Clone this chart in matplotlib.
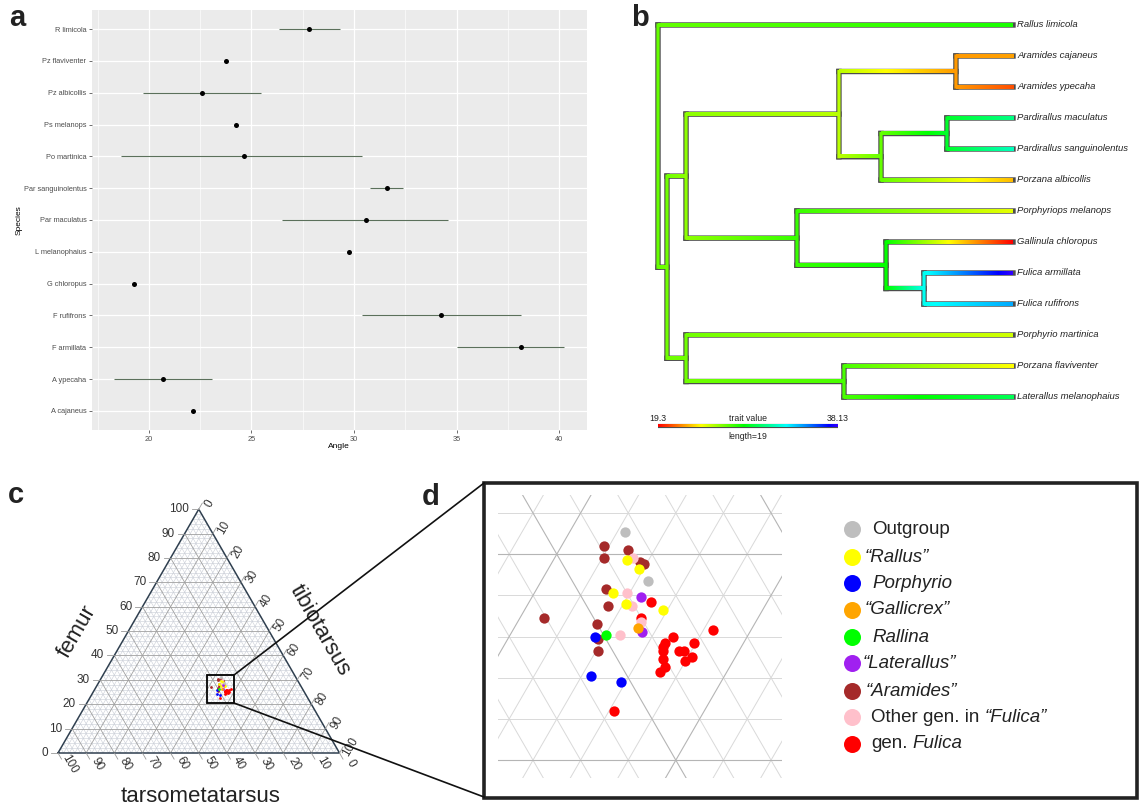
import numpy as np
import matplotlib
matplotlib.use("Agg")
import matplotlib.pyplot as plt
from matplotlib.collections import LineCollection
from matplotlib.colors import ListedColormap, hsv_to_rgb, Normalize
from matplotlib.patches import Rectangle

plt.rcParams['font.family'] = ['Liberation Sans', 'DejaVu Sans']

# ---------------- data : panel a ----------------
species_abbr = ["R limicola", "Pz flaviventer", "Pz albicollis", "Ps melanops", "Po martinica",
                "Par sanguinolentus", "Par maculatus", "L melanophaius", "G chloropus",
                "F rufifrons", "F armillata", "A ypecaha", "A cajaneus"]
angle_mean = [27.83, 23.75, 22.58, 24.23, 24.62, 31.63, 30.61, 29.78, 19.30, 34.26, 38.13, 20.68, 22.14]
angle_low = [26.37, np.nan, 19.70, np.nan, 18.64, 30.80, 26.47, np.nan, np.nan, 30.41, 35.04, 18.30, np.nan]
angle_high = [29.34, np.nan, 25.45, np.nan, 30.41, 32.41, 34.60, np.nan, np.nan, 38.15, 40.24, 23.07, np.nan]
angle_ticks = [20, 25, 30, 35, 40]

# ---------------- data : panel b (tree) ----------------
tip_names = ["Rallus limicola", "Aramides cajaneus", "Aramides ypecaha", "Pardirallus maculatus",
             "Pardirallus sanguinolentus", "Porzana albicollis", "Porphyriops melanops",
             "Gallinula chloropus", "Fulica armillata", "Fulica rufifrons", "Porphyrio martinica",
             "Porzana flaviventer", "Laterallus melanophaius"]
tip_values = [27.83, 22.14, 20.68, 30.61, 31.63, 22.58, 24.23, 19.30, 38.13, 34.26, 24.62, 23.75, 29.78]
tip_depth = 37.47
tree_nodes = ["root", "nA", "nB", "nC", "nD", "nE", "nF", "nG", "nH", "nI", "nJ", "nK"]
tree_children = [["t0", "nA"], ["nB", "nJ"], ["nC", "nG"], ["nD", "nE"], ["t1", "t2"], ["nF", "t5"],
                 ["t3", "t4"], ["t6", "nH"], ["t7", "nI"], ["t8", "t9"], ["t10", "nK"], ["t11", "t12"]]
node_depth = [0.0, 0.95, 2.96, 19.1, 31.45, 23.54, 30.5, 14.67, 24.07, 28.08, 2.96, 19.63]
node_value = [26.5, 26.3, 25.8, 25.0, 22.0, 26.5, 29.0, 27.3, 28.2, 32.5, 26.3, 27.0]
trait_min, trait_max = 19.3, 38.13
bar_length = 19

# ---------------- data : panels c/d (ternary: femur %, tibiotarsus %) ----------------
group_names = ["Outgroup", "Rallus", "Porphyrio", "Gallicrex", "Rallina", "Laterallus",
               "Aramides", "Other", "Fulica"]
group_colors = ["#BEBEBE", "#FFFF00", "#0000FF", "#FFA500", "#00FF00", "#A020F0",
                "#A52A2A", "#FFC0CB", "#FF0000"]
femur = {
    "Outgroup": [31.1, 28.7],
    "Aramides": [30.4, 29.8, 30.2, 29.6, 29.5, 28.3, 27.5, 26.9, 26.6, 25.9, 25.3],
    "Fulica": [27.7, 26.9, 26.3, 26.0, 25.7, 25.7, 25.5, 25.3, 25.3, 25.3, 25.0, 24.8, 24.9, 24.5, 24.3, 22.4],
    "Other": [29.8, 28.1, 27.5, 26.7, 26.1],
    "Rallus": [29.7, 29.3, 28.1, 27.6, 27.3],
    "Porphyrio": [26.0, 24.1, 23.8],
    "Rallina": [26.1],
    "Laterallus": [27.9, 26.2],
    "Gallicrex": [26.4],
}
tibiotarsus = {
    "Outgroup": [42.3, 44.5],
    "Aramides": [41.8, 42.1, 42.9, 43.7, 43.9, 42.9, 43.4, 41.0, 43.4, 43.8, 44.1],
    "Fulica": [45.1, 45.1, 48.4, 46.9, 47.9, 46.7, 46.7, 46.8, 47.5, 47.7, 48.2, 48.0, 47.0, 47.3, 47.2, 46.2],
    "Other": [43.3, 43.9, 44.4, 45.2, 44.6],
    "Rallus": [43.1, 43.8, 43.3, 44.1, 45.8],
    "Porphyrio": [43.6, 44.4, 45.8],
    "Rallina": [44.0],
    "Laterallus": [44.6, 45.5],
    "Gallicrex": [45.2],
}
draw_order = ["Aramides", "Fulica", "Other", "Rallus", "Porphyrio", "Rallina", "Laterallus",
              "Gallicrex", "Outgroup"]
legend_parts = [
    [("Outgroup", "normal")],
    [("\u201cRallus\u201d", "italic")],
    [("Porphyrio", "italic")],
    [("\u201cGallicrex\u201d", "italic")],
    [("Rallina", "italic")],
    [("\u201cLaterallus\u201d", "italic")],
    [("\u201cAramides\u201d", "italic")],
    [("Other gen. in", "normal"), ("\u201cFulica\u201d", "italic")],
    [("gen.", "normal"), ("Fulica", "italic")],
]
tern_ticks = list(range(0, 101, 10))

# ---------------- figure ----------------
W, H = 1145, 808
fig = plt.figure(figsize=(W / 100, H / 100), dpi=100)


def px_axes(x0, y0, x1, y1):
    return fig.add_axes([x0 / W, 1 - y1 / H, (x1 - x0) / W, (y1 - y0) / H])


# ---------------- panel a ----------------
axa = px_axes(92, 10, 587, 430)
axa.set_facecolor("#EBEBEB")
n = len(species_abbr)
yk = np.arange(n)
axa.set_xlim(17.23, 41.36)
axa.set_ylim(n - 1 + 0.6, -0.6)
axa.set_xticks(angle_ticks)
axa.set_xticks([t + 2.5 for t in [15] + angle_ticks[:-1]], minor=True)
axa.set_yticks(yk)
axa.set_yticklabels(species_abbr)
axa.grid(which="major", color="white", lw=0.9)
axa.grid(which="minor", axis="x", color="white", lw=0.45)
axa.set_axisbelow(True)
for s in axa.spines.values():
    s.set_visible(False)
axa.tick_params(which="major", length=2.5, width=0.5, color="#333333", labelsize=5.3,
                labelcolor="#4D4D4D", pad=1.5)
axa.tick_params(which="minor", length=0)
lo = np.array(angle_low)
hi = np.array(angle_high)
mask = ~np.isnan(lo)
axa.hlines(yk[mask], lo[mask], hi[mask], color="#5b705b", lw=0.8, zorder=2)
axa.scatter(angle_mean, yk, s=13, color="black", zorder=3, linewidths=0)

# ---------------- panel b ----------------
hues = np.linspace(0, 0.7, 1001)
cmap = ListedColormap(hsv_to_rgb(np.column_stack([hues, np.ones_like(hues), np.ones_like(hues)])))
norm = Normalize(trait_min, trait_max)

axb = px_axes(640, 5, 1145, 455)
ux = 180 / 19.0
XL = ((640 - 658) / ux, (1145 - 658) / ux)
YL = ((455 - 25) / 31.0, (5 - 25) / 31.0)
axb.axis("off")

idx = {nm: i for i, nm in enumerate(tree_nodes)}


def depth_of(nm):
    return tip_depth if nm[0] == "t" else node_depth[idx[nm]]


def value_of(nm):
    return tip_values[int(nm[1:])] if nm[0] == "t" else node_value[idx[nm]]


def ypos(nm):
    if nm[0] == "t":
        return float(int(nm[1:]))
    return float(np.mean([ypos(c) for c in tree_children[idx[nm]]]))


LW_OUT, LW_IN = 3.9, 2.3
OUT_COL = "#4d4d4d"


def grad_strip(ax, x0, x1, y, v0, v1, lw_pt, z, npts=200):
    half = (lw_pt * 100 / 72.0) / 2.0 / 31.0
    vals = np.linspace(v0, v1, npts)
    img = cmap(norm(vals))[np.newaxis, :, :]
    ax.imshow(img, extent=(x0, x1, y + half, y - half), aspect="auto",
              interpolation="bilinear", zorder=z)


for nm, ch in zip(tree_nodes, tree_children):
    x0 = depth_of(nm)
    ys = [ypos(c) for c in ch]
    axb.plot([x0, x0], [min(ys), max(ys)], color=OUT_COL, lw=LW_OUT, solid_capstyle="projecting",
             zorder=1, snap=False)
    for c in ch:
        axb.plot([x0, depth_of(c)], [ypos(c)] * 2, color=OUT_COL, lw=LW_OUT,
                 solid_capstyle="projecting", zorder=1, snap=False)
for nm, ch in zip(tree_nodes, tree_children):
    x0 = depth_of(nm)
    ys = [ypos(c) for c in ch]
    axb.plot([x0, x0], [min(ys), max(ys)], color=cmap(norm(value_of(nm))), lw=LW_IN,
             solid_capstyle="projecting", zorder=3, snap=False)
    for c in ch:
        grad_strip(axb, x0, depth_of(c), ypos(c), value_of(nm), value_of(c), LW_IN, 2)

for i, name in enumerate(tip_names):
    axb.text(tip_depth + 0.45, i, name, style="italic", fontsize=6.8, va="center", ha="left",
             color="#222222")

ybar = (426 - 25) / 31.0
axb.plot([0, bar_length], [ybar, ybar], color=OUT_COL, lw=3.0, solid_capstyle="butt", zorder=1, snap=False)
grad_strip(axb, 0, bar_length, ybar, trait_min, trait_max, 1.8, 2, npts=400)
ylab = (419 - 25) / 31.0
axb.text(0, ylab, f"{trait_min:g}", fontsize=6.3, ha="center", va="center", color="#222222")
axb.text(bar_length, ylab, f"{trait_max:g}", fontsize=6.3, ha="center", va="center", color="#222222")
axb.text(bar_length / 2, ylab, "trait value", fontsize=6.3, ha="center", va="center", color="#222222")
axb.text(bar_length / 2, (437 - 25) / 31.0, f"length={bar_length}", fontsize=6.3, ha="center",
         va="center", color="#222222")
axb.set_xlim(*XL)
axb.set_ylim(*YL)

# ---------------- ternary helpers ----------------
S3 = np.sqrt(3) / 2


def tern_xy(F, Ti):
    F = np.asarray(F, dtype=float)
    Ti = np.asarray(Ti, dtype=float)
    return Ti + F * 0.5, F * S3


def grid_segments(levels):
    segs = []
    for v in levels:
        segs.append([tern_xy(v, 0), tern_xy(v, 100 - v)])
        segs.append([tern_xy(0, v), tern_xy(100 - v, v)])
        segs.append([tern_xy(0, 100 - v), tern_xy(100 - v, 0)])
    return [[(float(a[0]), float(a[1])), (float(b[0]), float(b[1]))] for a, b in segs]


minor_levels = [v for v in range(2, 100, 2) if v % 10]
major_levels = list(range(10, 100, 10))

# ---------------- panel c ----------------
axc = px_axes(0, 470, 420, 808)
sc = 2.815
axc.set_xlim(-58 / sc, (420 - 58) / sc)
axc.set_ylim(-(808 - 753) / sc, (753 - 470) / sc)
axc.axis("off")
axc.add_collection(LineCollection(grid_segments(minor_levels), colors="#C9CDD6", linewidths=0.4, zorder=1))
axc.add_collection(LineCollection(grid_segments(major_levels), colors="#A0A0A0", linewidths=0.6, zorder=1))
tri = np.array([tern_xy(0, 0), tern_xy(0, 100), tern_xy(100, 0), tern_xy(0, 0)], dtype=float)
axc.plot(tri[:, 0], tri[:, 1], color="#2F3F4F", lw=1.1, zorder=2)
tick_len = 2.5
for v in tern_ticks:
    x, y = tern_xy(v, 0)
    axc.plot([x, x - tick_len], [y, y], color="#999999", lw=0.6)
    axc.text(x - 3.6, y, str(v), ha="right", va="center", fontsize=8.5, color="#333333")
    x, y = tern_xy(100 - v, v)
    axc.plot([x, x + tick_len * 0.5], [y, y + tick_len * S3], color="#999999", lw=0.6)
    axc.text(x + 4.0, y + 2.1, str(v), ha="center", va="center", rotation=60, fontsize=8.5, color="#333333")
    x, y = tern_xy(0, 100 - v)
    axc.plot([x, x + tick_len * 0.5], [y, y - tick_len * S3], color="#999999", lw=0.6)
    axc.text(x + 4.0, y - 3.8, str(v), ha="center", va="center", rotation=-60, fontsize=8.5, color="#333333")
axc.text(6.75, 43.0, "femur", rotation=60, ha="center", va="center", fontsize=16, color="#222222")
axc.text(93.1, 43.7, "tibiotarsus", rotation=-60, ha="center", va="center", fontsize=16, color="#222222")
axc.text(50.8, -15.6, "tarsometatarsus", ha="center", va="center", fontsize=16, color="#222222")
for g in draw_order:
    x, y = tern_xy(femur[g], tibiotarsus[g])
    axc.scatter(x, y, s=4, color=group_colors[group_names.index(g)], linewidths=0, zorder=3)
axc.add_patch(Rectangle((52.9, 17.8), 9.6, 9.9, fill=False, edgecolor="black", lw=1.3, zorder=4))

# ---------------- panel d ----------------
axd = px_axes(498, 495, 782, 778)
axd.set_xlim(52.53, 64.46)
axd.set_ylim(16.57, 28.47)
axd.axis("off")
axd.add_collection(LineCollection(grid_segments(minor_levels), colors="#D9D9D9", linewidths=0.7, zorder=1))
axd.add_collection(LineCollection(grid_segments(major_levels), colors="#B5B5B5", linewidths=0.8, zorder=1))
for g in draw_order:
    x, y = tern_xy(femur[g], tibiotarsus[g])
    axd.scatter(x, y, s=55, color=group_colors[group_names.index(g)], linewidths=0, zorder=3)

# ---------------- overlay ----------------
ov = fig.add_axes([0, 0, 1, 1])
ov.set_xlim(0, W)
ov.set_ylim(H, 0)
ov.axis("off")
for lab, x, y in [("a", 9, 26), ("b", 631, 26), ("c", 8, 503), ("d", 422, 505)]:
    ov.text(x, y, lab, fontsize=21, fontweight="bold", ha="left", va="baseline", color="#222222")
ov.text(339, 447, "Angle", fontsize=6, ha="center", va="center", color="black")
ov.text(19, 220, "Species", fontsize=6, ha="center", va="center", rotation=90, color="black")
ov.add_patch(Rectangle((484, 483), 653, 315, fill=False, edgecolor="#222222", lw=2.6))
ov.plot([234, 484], [675, 483], color="#111111", lw=1.2)
ov.plot([234, 484], [703, 797], color="#111111", lw=1.2)

leg_y = [529, 557, 583, 610, 637, 663, 691, 717, 744]
leg_tx = [872, 865, 872, 865, 872, 863, 866, 871, 871]
renderer = fig.canvas.get_renderer()
for i, parts in enumerate(legend_parts):
    ov.scatter([852], [leg_y[i]], s=150, color=group_colors[i], linewidths=0, zorder=5)
    x = leg_tx[i]
    for j, (txt, sty) in enumerate(parts):
        t = ov.text(x, leg_y[i], txt, fontsize=13.5, style=sty, ha="left", va="center", color="#222222")
        bb = t.get_window_extent(renderer)
        x = ov.transData.inverted().transform((bb.x1, bb.y0))[0] + 5

fig.savefig("out.png", dpi=100)
